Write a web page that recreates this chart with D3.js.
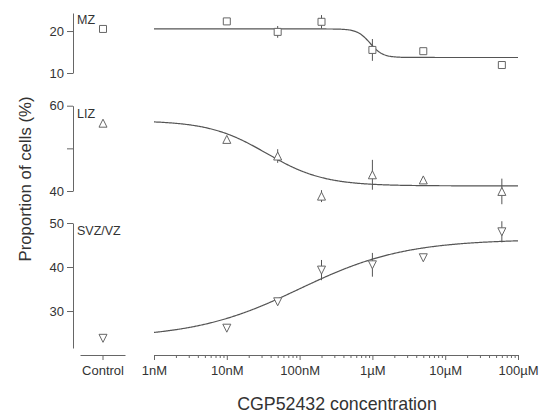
<!DOCTYPE html>
<html>
<head>
<meta charset="utf-8">
<script src="https://cdn.jsdelivr.net/npm/d3@7"></script>
<style>
  body { margin: 0; background: #fff; }
  svg text { font-family: "Liberation Sans", Arial, sans-serif; fill: #333; }
  .axis path, .axis line { stroke: #666; }
  .axis text { font-size: 13px; fill: #333; }
</style>
</head>
<body>
<svg id="chart" width="543" height="415"></svg>
<script>
// doses (molar) at which the cells were counted
const concentrations = [1e-8, 5e-8, 2e-7, 1e-6, 5e-6, 6e-5];
const xTickValues = [1e-9, 1e-8, 1e-7, 1e-6, 1e-5, 1e-4];
const xTickLabels = ['1nM', '10nM', '100nM', '1µM', '10µM', '100µM'];

const regions = ['MZ', 'LIZ', 'SVZ/VZ'];
const markers = ['square', 'up', 'down'];

const mzMean = [22.3, 19.8, 22.2, 15.5, 15.2, 11.9];
const mzErr = [0, 1.4, 1.6, 2.6, 0, 0];
const mzControl = 20.5;

const lizMean = [52.1, 48.2, 38.8, 43.8, 42.6, 39.9];
const lizErr = [0, 1.6, 1.4, 3.5, 0.4, 3.0];
const lizControl = 55.9;

const svzMean = [26.1, 32.1, 39.3, 40.5, 42.1, 48.0];
const svzErr = [0, 0.6, 2.3, 2.7, 0, 2.4];
const svzControl = 23.8;

// fitted sigmoid for each region: [bottom, top, ec50 (M), hill slope]
const mzFit = [13.7, 20.5, 9.3e-7, -5];
const lizFit = [41.2, 56.5, 3.5e-8, -1.1];
const svzFit = [23.8, 46.3, 1.0e-7, 0.6];

const yDomains = [[10, 24.3], [40, 60], [21.6, 50]];
const yTicks = [[10, 20], [40, 50, 60], [30, 40, 50]];
const yTickLabels = [['10', '20'], ['40', '', '60'], ['30', '40', '50']];

const svg = d3.select('#chart');

var x = d3.scaleLog().domain([1e-9, 1e-4]).range([154, 518]);
var controlX = 103;
var yAxisX = 73;
var axisY = 355;

var panelRanges = [[73, 13], [191, 105.7], [348, 223]];
var labelPos = [[77, 24], [77, 118], [77, 235]];

var means = [mzMean, lizMean, svzMean];
var errs = [mzErr, lizErr, svzErr];
var controls = [mzControl, lizControl, svzControl];
var fits = [mzFit, lizFit, svzFit];

function fitValue(p, c) {
  // p = [bottom, top, ec50, slope]; positive slope rises with dose
  var r = Math.pow(c / p[2], Math.abs(p[3]));
  var f = r / (1 + r);
  if (p[3] < 0) f = 1 - f;
  return p[0] + (p[1] - p[0]) * f;
}

function markerPath(kind, cx, cy) {
  if (kind === 'square') {
    var s = 3.5;
    return `M${cx - s},${cy - s}H${cx + s}V${cy + s}H${cx - s}Z`;
  }
  var w = 4, h = 4;
  if (kind === 'up') return `M${cx},${cy - h}L${cx + w},${cy + h}L${cx - w},${cy + h}Z`;
  return `M${cx},${cy + h}L${cx + w},${cy - h}L${cx - w},${cy - h}Z`;
}

var doseGrid = d3.range(0, 401).map(i => Math.pow(10, -9 + 5 * i / 400));

regions.forEach((name, k) => {
  var y = d3.scaleLinear().domain(yDomains[k]).range(panelRanges[k]);
  var g = svg.append('g');

  var yAxis = d3.axisLeft(y)
    .tickValues(yTicks[k])
    .tickFormat((d, i) => yTickLabels[k][i])
    .tickSize(6).tickSizeOuter(0).tickPadding(3);
  g.append('g').attr('class', 'axis')
    .attr('transform', `translate(${yAxisX},0)`)
    .call(yAxis);

  g.append('text')
    .attr('x', labelPos[k][0]).attr('y', labelPos[k][1])
    .attr('font-size', 12.5)
    .text(name);

  // fitted curve
  var line = d3.line().x(d => x(d)).y(d => y(fitValue(fits[k], d)));
  g.append('path').datum(doseGrid)
    .attr('d', line)
    .attr('fill', 'none')
    .attr('stroke', '#555')
    .attr('stroke-width', 1.2);

  // error bars
  g.selectAll('.err').data(concentrations).enter().append('line')
    .attr('x1', d => x(d)).attr('x2', d => x(d))
    .attr('y1', (d, i) => y(means[k][i] - errs[k][i]))
    .attr('y2', (d, i) => y(means[k][i] + errs[k][i]))
    .attr('stroke', '#555').attr('stroke-width', 1);

  // points
  g.selectAll('.pt').data(concentrations).enter().append('path')
    .attr('d', (d, i) => markerPath(markers[k], x(d), y(means[k][i])))
    .attr('fill', '#fff').attr('stroke', '#666').attr('stroke-width', 1);

  g.append('path')
    .attr('d', markerPath(markers[k], controlX, y(controls[k])))
    .attr('fill', '#fff').attr('stroke', '#666').attr('stroke-width', 1);
});

// control axis
var cAxis = d3.scalePoint().domain(['Control']).range([80, 125]);
svg.append('g').attr('class', 'axis')
  .attr('transform', `translate(0,${axisY})`)
  .call(d3.axisBottom(cAxis).tickSize(5).tickSizeOuter(0).tickPadding(6));

// concentration axis: minor ticks then labelled decades
var minorTicks = [];
for (var e = -9; e < -4; e++) {
  for (var m = 2; m <= 9; m++) minorTicks.push(m * Math.pow(10, e));
}
svg.append('g').attr('class', 'axis')
  .attr('transform', `translate(0,${axisY})`)
  .call(d3.axisBottom(x).tickValues(minorTicks).tickFormat('').tickSize(3).tickSizeOuter(0));
svg.append('g').attr('class', 'axis')
  .attr('transform', `translate(0,${axisY})`)
  .call(d3.axisBottom(x).tickValues(xTickValues)
    .tickFormat((d, i) => xTickLabels[i])
    .tickSize(5).tickSizeOuter(0).tickPadding(6));

svg.append('text')
  .attr('x', 337).attr('y', 410)
  .attr('text-anchor', 'middle')
  .attr('font-size', 17.8)
  .text('CGP52432 concentration');

svg.append('text')
  .attr('transform', 'translate(31,179) rotate(-90)')
  .attr('text-anchor', 'middle')
  .attr('font-size', 16.8)
  .text('Proportion of cells (%)');
</script>
</body>
</html>
